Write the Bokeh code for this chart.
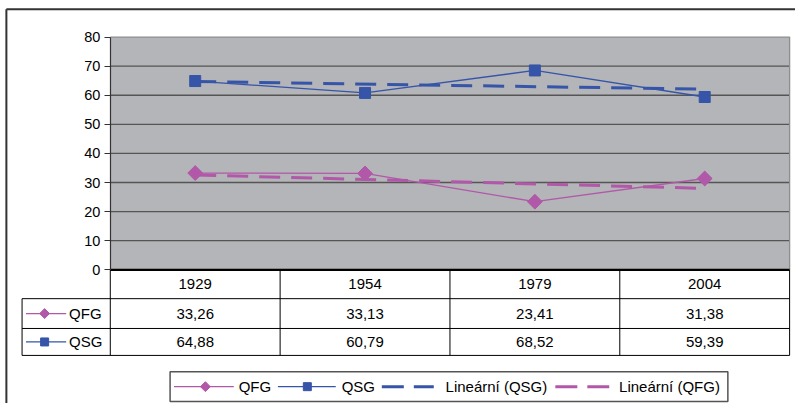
import numpy as np
from bokeh.plotting import figure
from bokeh.models import LinearAxis, FixedTicker, Range1d
from bokeh.core.properties import value
from bokeh.embed import file_html
from bokeh.resources import INLINE

# ---------------- data ----------------
years = ["1929", "1954", "1979", "2004"]
qfg = [33.26, 33.13, 23.41, 31.38]
qsg = [64.88, 60.79, 68.52, 59.39]
y_ticks = [0, 10, 20, 30, 40, 50, 60, 70, 80]
row_names = ["QFG", "QSG"]
legend_labels = ["QFG", "QSG", "Lineární (QSG)", "Lineární (QFG)"]

# ---------------- styles ----------------
MAG = "#B158A8"
BLUE = "#3655A8"
GRAY = "#B4B5B9"
GRID = "#555555"
FONT = "Liberation Sans"

def fmt(v):
    return f"{v:.2f}".replace(".", ",")

# layout helpers: reference-picture pixel -> data coordinate
W, H = 795, 403          # figure size (the 811x419 design is fitted into it)
REF_W, REF_H = 811, 419
X0, COLW = 112, 173.25
YZERO, YSCALE = 280, 3.025

def PX(px):
    return (px - X0) / COLW - 0.5

def PY(py):
    return (YZERO - py) / YSCALE

p = figure(width=W, height=H, output_backend="svg", toolbar_location=None,
           x_range=Range1d(PX(0), PX(REF_W)), y_range=Range1d(PY(REF_H), PY(0)),
           x_axis_location=None, y_axis_location=None, min_border=0,
           outline_line_color=None, background_fill_color="white", border_fill_color="white")
p.grid.visible = False

xs = list(range(len(years)))
L, R = -0.5, len(years) - 0.5

# outer chart border (top + left)
p.line([PX(6), PX(REF_W)], [PY(9), PY(9)], line_color="#333333", line_width=2)
p.line([PX(6), PX(6)], [PY(9), PY(REF_H)], line_color="#333333", line_width=2)

# plot area
p.quad(left=L, right=R, bottom=y_ticks[0], top=y_ticks[-1], fill_color=GRAY, line_color=None)
p.segment(x0=[L] * (len(y_ticks) - 2), x1=[R] * (len(y_ticks) - 2),
          y0=y_ticks[1:-1], y1=y_ticks[1:-1], line_color=GRID, line_width=1.3)
p.line([L, R, R], [y_ticks[-1], y_ticks[-1], y_ticks[0]], line_color="#8E8E8E", line_width=1.3)

# y axis
yaxis = LinearAxis(fixed_location=L, ticker=FixedTicker(ticks=y_ticks), bounds=(y_ticks[0], y_ticks[-1]),
                   axis_line_color="#333333", axis_line_width=1.2,
                   major_tick_line_color="#333333", major_tick_out=6, major_tick_in=0,
                   minor_tick_line_color=None, major_label_text_font=FONT,
                   major_label_text_font_size="14.5px", major_label_text_color="black",
                   major_label_standoff=4)
p.add_layout(yaxis, "left")

# trend lines (linear regression over category index, as the spreadsheet does)
for vals, col in ((qsg, BLUE), (qfg, MAG)):
    k, b = np.polyfit(xs, vals, 1)
    p.line([xs[0], xs[-1]], [k * xs[0] + b, k * xs[-1] + b], line_color=col, line_width=3,
           line_dash="21 11")

# series
p.line(xs, qfg, line_color=MAG, line_width=1.3)
p.scatter(xs, qfg, marker="square", angle=np.pi / 4, size=10.5, fill_color=MAG, line_color=MAG)
p.line(xs, qsg, line_color=BLUE, line_width=1.3)
p.scatter(xs, qsg, marker="square", size=11, fill_color=BLUE, line_color=BLUE)

# zero line
p.line([L, R], [0, 0], line_color="black", line_width=2.2)

# data table
row_lines = [310, 341, 369]
for ry in row_lines:
    p.line([PX(22), R], [PY(ry), PY(ry)], line_color="black", line_width=1)
p.line([PX(22), PX(22)], [PY(row_lines[0]), PY(row_lines[-1])], line_color="black", line_width=1)
for bx in [L] + [i + 0.5 for i in xs]:
    p.line([bx, bx], [0, PY(row_lines[-1])], line_color="black", line_width=1)

txt = dict(text_font=value(FONT), text_font_size="15px", text_color="black",
           text_baseline="middle")
p.text(xs, [PY(295)] * 4, text=years, text_align="center", **txt)
p.text(xs, [PY(325.5)] * 4, text=[fmt(v) for v in qfg], text_align="center", **txt)
p.text(xs, [PY(355)] * 4, text=[fmt(v) for v in qsg], text_align="center", **txt)

# row headers with keys
for name, cy, col, mk in ((row_names[0], 325.5, MAG, "diamond"), (row_names[1], 355, BLUE, "square")):
    p.line([PX(26), PX(67)], [PY(cy), PY(cy)], line_color=col, line_width=1.3)
    if mk == "diamond":
        p.scatter([PX(45)], [PY(cy)], marker="square", angle=np.pi / 4, size=7, fill_color=col, line_color=col)
    else:
        p.scatter([PX(45)], [PY(cy)], marker="square", size=8, fill_color=col, line_color=col)
    p.text([PX(70)], [PY(cy)], text=[name], text_align="left", **txt)

# legend
LT, LB = 386, 417
LC = (LT + LB) / 2
p.quad(left=PX(173), right=PX(742), top=PY(LT), bottom=PY(LB), fill_color="white",
       line_color="#555555", line_width=1.5)
p.line([PX(177), PX(238)], [PY(LC)] * 2, line_color=MAG, line_width=1.3)
p.scatter([PX(209)], [PY(LC)], marker="square", angle=np.pi / 4, size=7, fill_color=MAG, line_color=MAG)
p.line([PX(283), PX(342)], [PY(LC)] * 2, line_color=BLUE, line_width=1.3)
p.scatter([PX(313)], [PY(LC)], marker="square", size=8, fill_color=BLUE, line_color=BLUE)
p.line([PX(389), PX(442)], [PY(LC)] * 2, line_color=BLUE, line_width=3, line_dash="22 10")
p.line([PX(566), PX(621)], [PY(LC)] * 2, line_color=MAG, line_width=3, line_dash="22 10")
p.text([PX(243), PX(348), PX(454), PX(631)], [PY(LC)] * 4, text=legend_labels,
       text_align="left", **txt)

open("out.html", "w").write(file_html(p, INLINE))
